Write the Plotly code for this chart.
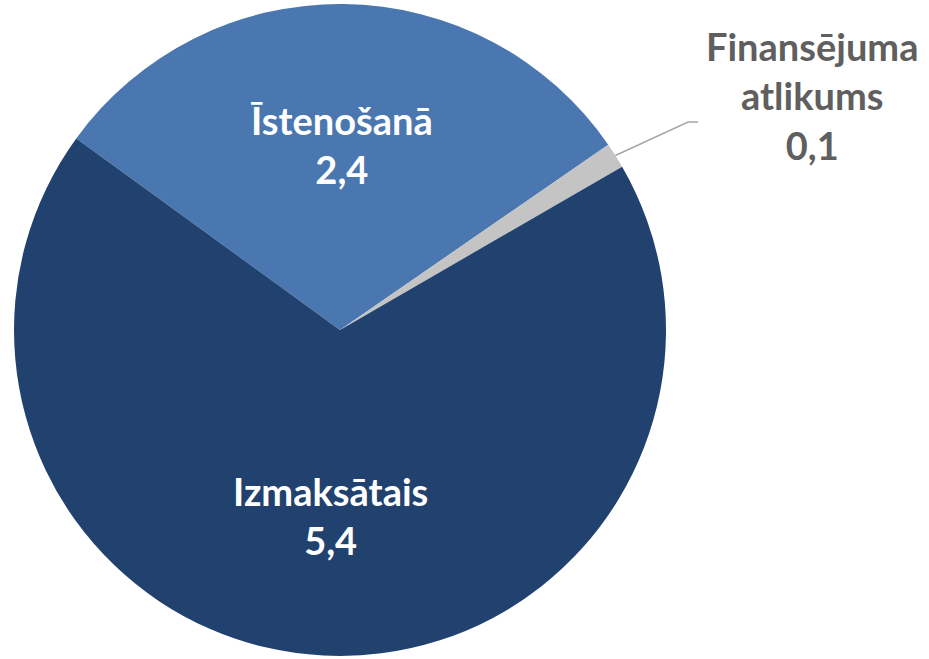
import math
import plotly.graph_objects as go

labels = ["Īstenošanā", "Finansējuma<br>atlikums", "Izmaksātais"]
values = [2.4, 0.1, 5.4]
colors = ["#4A77B0", "#C4C4C4", "#21426F"]
value_text = ["2,4", "0,1", "5,4"]

W, H = 929, 659
cx, cy, r = 340, 330, 326  # pixel geometry of the pie
rotation = -54
label_frac = 0.57

fig = go.Figure(go.Pie(
    labels=labels,
    values=values,
    textinfo="none",
    sort=False,
    direction="clockwise",
    rotation=rotation,
    marker=dict(colors=colors, line=dict(width=0)),
    domain=dict(x=[(cx - r) / W, (cx + r) / W], y=[(H - cy - r) / H, (H - cy + r) / H]),
    showlegend=False,
    hoverinfo="label+value",
))

total = sum(values)
cum = 0
for i, (lab, v, vt) in enumerate(zip(labels, values, value_text)):
    mid = rotation + (cum + v / 2) / total * 360
    cum += v
    sa, ca = math.sin(math.radians(mid)), math.cos(math.radians(mid))
    if i == 1:
        # small slice: leader line + outside label
        ex, ey = cx + r * sa, cy - r * ca
        kx, ky = 688, 122
        fig.add_shape(type="path", xref="paper", yref="paper",
                      path=f"M {ex/W},{1-ey/H} L {kx/W},{1-ky/H} L {(kx+10)/W},{1-ky/H}",
                      line=dict(color="#A6A6A6", width=1.5))
        fig.add_annotation(x=812 / W, y=1 - 95 / H, xref="paper", yref="paper",
                           text=f"{lab}<br>{vt}", showarrow=False,
                           xanchor="center", yanchor="middle",
                           font=dict(family="Lato", size=38, color="#5F5F5F", weight="bold"))
    else:
        tx, ty = cx + label_frac * r * sa, cy - label_frac * r * ca
        fig.add_annotation(x=tx / W, y=1 - ty / H, xref="paper", yref="paper",
                           text=f"{lab}<br>{vt}", showarrow=False,
                           xanchor="center", yanchor="middle",
                           font=dict(family="Lato", size=38, color="white", weight="bold"))

fig.update_layout(width=W, height=H, margin=dict(l=0, r=0, t=0, b=0),
                  paper_bgcolor="white", plot_bgcolor="white")
fig.write_html("out.html", post_script="document.body.style.margin='0';",
               config={"displayModeBar": False})
